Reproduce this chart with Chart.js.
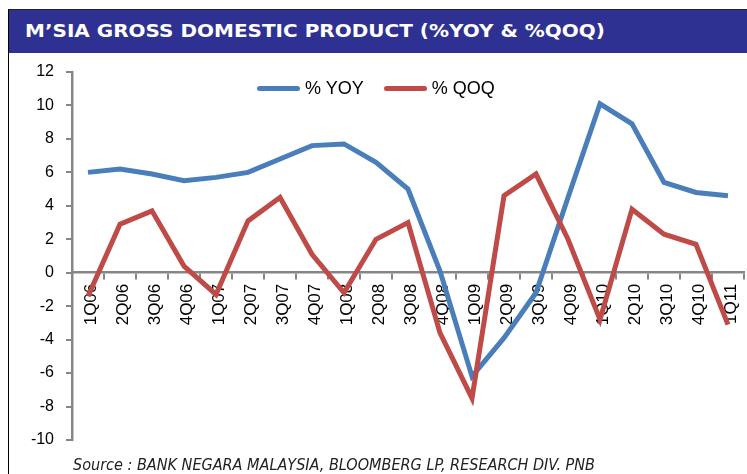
<!DOCTYPE html>
<html>
<head>
<meta charset="utf-8">
<script src="https://cdn.jsdelivr.net/npm/chart.js@4/dist/chart.umd.min.js"></script>
<style>
  html, body { margin: 0; padding: 0; background: #fff; }
  body { width: 747px; height: 474px; position: relative; overflow: hidden; }
  #frame { position: absolute; left: 8px; top: 9px; width: 760px; height: 480px;
           border-left: 1px solid #000; border-top: 1px solid #222; box-sizing: border-box; }
  #titlebar { position: absolute; left: 9px; top: 10px; width: 738px; height: 43px; background: #2E3192; }
  #title { position: absolute; left: 25px; top: 19px; color: #fff; font-family: "DejaVu Sans", sans-serif;
           font-weight: bold; font-size: 18px; line-height: 24px; white-space: nowrap; transform-origin: left center; }
  #source { position: absolute; left: 73px; top: 455px; color: #222; font-family: "DejaVu Sans Condensed", "DejaVu Sans", sans-serif;
            font-style: italic; font-size: 15px; line-height: 20px; white-space: nowrap; transform-origin: left center; }
  #legend { position: absolute; left: 257px; top: 77px; height: 22px; display: flex; align-items: center;
            font-family: "Liberation Sans", Arial, sans-serif; font-size: 18px; color: #000; white-space: nowrap; }
  .item { display: flex; align-items: center; margin-right: 20px; }
  .swatch { width: 43px; height: 5px; border-radius: 3px; margin-right: 5px; }
  #wrap { position: absolute; left: 0; top: 0; width: 747px; height: 474px; }
</style>
</head>
<body>
<div id="wrap"><canvas id="c" width="747" height="474"></canvas></div>
<div id="frame"></div>
<div id="titlebar"></div>
<div id="title">M’SIA GROSS DOMESTIC PRODUCT (%YOY &amp; %QOQ)</div>
<div id="legend"></div>
<div id="source">Source : BANK NEGARA MALAYSIA, BLOOMBERG LP, RESEARCH DIV. PNB</div>
<script>
// ---- data ----
const categories = ["1Q06","2Q06","3Q06","4Q06","1Q07","2Q07","3Q07","4Q07","1Q08","2Q08","3Q08","4Q08",
                    "1Q09","2Q09","3Q09","4Q09","1Q10","2Q10","3Q10","4Q10","1Q11"];
const yoyValues = [6.0, 6.2, 5.9, 5.5, 5.7, 6.0, 6.8, 7.6, 7.7, 6.6, 5.0, 0.1,
                   -6.2, -3.9, -1.2, 4.5, 10.1, 8.9, 5.4, 4.8, 4.6];
const qoqValues = [-1.4, 2.9, 3.7, 0.4, -1.3, 3.1, 4.5, 1.1, -1.2, 2.0, 3.0, -3.6,
                   -7.5, 4.6, 5.9, 2.0, -2.8, 3.8, 2.3, 1.7, -3.1];
const seriesNames = ["% YOY", "% QOQ"];
const seriesColors = ["#4A7EBB", "#BE4B48"];
const yMin = -10, yMax = 12, yStep = 2;

// ---- text fitting (keeps glyph height, matches width) ----
function fitWidth(id, target) {
  const el = document.getElementById(id);
  const w = el.getBoundingClientRect().width;
  el.style.transform = 'scaleX(' + (target / w) + ')';
}
fitWidth('title', 580);
fitWidth('source', 522);

// ---- legend ----
const legend = document.getElementById('legend');
seriesNames.forEach((name, i) => {
  const it = document.createElement('div');
  it.className = 'item';
  const sw = document.createElement('div');
  sw.className = 'swatch';
  sw.style.background = seriesColors[i];
  const tx = document.createElement('span');
  tx.textContent = name;
  it.appendChild(sw); it.appendChild(tx);
  legend.appendChild(it);
});

// ---- chart ----
const axisGrey = '#868686';
new Chart(document.getElementById('c'), {
  type: 'line',
  data: {
    labels: categories,
    datasets: [
      { label: seriesNames[0], data: yoyValues, borderColor: seriesColors[0], backgroundColor: seriesColors[0],
        borderWidth: 5, pointRadius: 0, tension: 0, fill: false, order: 1 },
      { label: seriesNames[1], data: qoqValues, borderColor: seriesColors[1], backgroundColor: seriesColors[1],
        borderWidth: 5, pointRadius: 0, tension: 0, fill: false, order: 0 }
    ]
  },
  options: {
    responsive: false,
    animation: false,
    devicePixelRatio: 1,
    layout: { padding: { left: 0, right: 3, top: 72, bottom: 34 } },
    plugins: { legend: { display: false }, tooltip: { enabled: false }, title: { display: false } },
    scales: {
      x: {
        type: 'category',
        position: { y: 0 },
        offset: true,
        afterFit: (s) => { s.paddingLeft = 0; s.paddingRight = 0; },
        grid: { display: true, drawOnChartArea: false, drawTicks: true, tickLength: 6, offset: true,
                color: axisGrey, lineWidth: 2 },
        border: { display: true, color: axisGrey, width: 2.5 },
        ticks: { color: '#000', minRotation: 90, maxRotation: 90, autoSkip: false, padding: 5, labelOffset: 3,
                 font: { family: '"Liberation Sans", Arial, sans-serif', size: 17 } }
      },
      y: {
        min: yMin, max: yMax,
        afterFit: (s) => { s.width = 72; s.paddingTop = 0; s.paddingBottom = 0; },
        grid: { display: true, drawOnChartArea: false, drawTicks: true, tickLength: 6, color: axisGrey, lineWidth: 2 },
        border: { display: true, color: axisGrey, width: 2.5 },
        ticks: { stepSize: yStep, color: '#000', padding: 12,
                 font: { family: '"Liberation Sans", Arial, sans-serif', size: 16 } }
      }
    }
  }
});
</script>
</body>
</html>
